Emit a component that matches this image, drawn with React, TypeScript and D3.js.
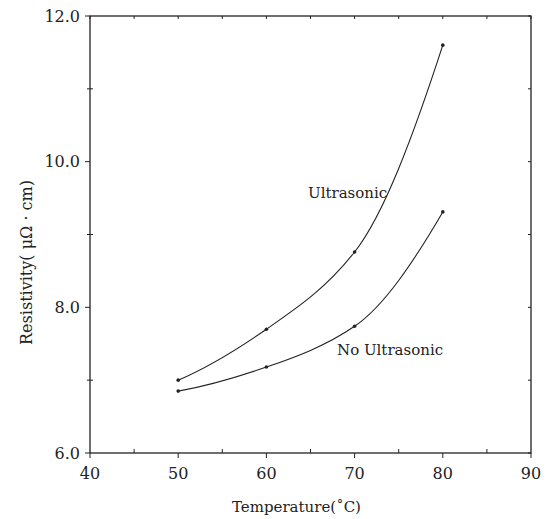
import React from 'react';
import * as d3 from 'd3';

// values
const temps = [50, 60, 70, 80];
const ultrasonic = [7.0, 7.7, 8.76, 11.6];
const noUltrasonic = [6.85, 7.18, 7.74, 9.31];
const xTicks = [40, 50, 60, 70, 80, 90];
const xMinor = [45, 55, 65, 75, 85];
const yTicks = [6, 8, 10, 12];
const yMinor = [7, 9, 11];

const W = 549, H = 519;
const font = '"DejaVu Serif", serif';
const ink = '#222';

// smooth hermite curve with harmonic-mean tangents (keeps the curves convex like the hand drawn ones)
function smoothPath(px: number[], py: number[]) {
  const n = px.length;
  const s: number[] = [];
  for (let i = 0; i < n - 1; i++) s.push((py[i + 1] - py[i]) / (px[i + 1] - px[i]));
  const m: number[] = [];
  for (let i = 0; i < n; i++) {
    if (i === 0) m.push((3 * s[0] - s[1]) / 2);
    else if (i === n - 1) m.push((3 * s[n - 2] - s[n - 3]) / 2);
    else m.push(s[i - 1] * s[i] > 0 ? 2 / (1 / s[i - 1] + 1 / s[i]) : 0);
  }
  const p = d3.path();
  p.moveTo(px[0], py[0]);
  for (let i = 0; i < n - 1; i++) {
    const h = (px[i + 1] - px[i]) / 3;
    p.bezierCurveTo(px[i] + h, py[i] + m[i] * h, px[i + 1] - h, py[i + 1] - m[i + 1] * h, px[i + 1], py[i + 1]);
  }
  return p.toString();
}

function App() {
  const x = d3.scaleLinear().domain([40, 90]).range([90, 531]);
  const y = d3.scaleLinear().domain([6, 12]).range([453, 16]);

  const series = [
    { name: 'Ultrasonic', values: ultrasonic, lx: 308, ly: 198 },
    { name: 'No Ultrasonic', values: noUltrasonic, lx: 337, ly: 355 },
  ];

  const [x0, x1] = x.range();
  const [y0, y1] = y.range();

  return (
    <svg width={W} height={H} style={{ position: 'absolute', left: 0, top: 0, background: '#fff' }}>
      {/* frame */}
      <rect x={x0} y={y1} width={x1 - x0} height={y0 - y1} fill="none" stroke={ink} strokeWidth={1.3} />

      {/* x ticks */}
      {xTicks.map(t => (
        <g key={'xt' + t}>
          <line x1={x(t)} x2={x(t)} y1={y0} y2={y0 + 5} stroke={ink} />
          <line x1={x(t)} x2={x(t)} y1={y1} y2={y1 + 3} stroke={ink} />
          <text x={x(t)} y={y0 + 26} textAnchor="middle" fontFamily={font} fontSize={16} fill={ink}>{t}</text>
        </g>
      ))}
      {xMinor.map(t => (
        <g key={'xm' + t}>
          <line x1={x(t)} x2={x(t)} y1={y0} y2={y0 - 4} stroke={ink} />
          <line x1={x(t)} x2={x(t)} y1={y1} y2={y1 + 3} stroke={ink} />
        </g>
      ))}

      {/* y ticks */}
      {yTicks.map(t => (
        <g key={'yt' + t}>
          <line x1={x0 - 5} x2={x0} y1={y(t)} y2={y(t)} stroke={ink} />
          <line x1={x1} x2={x1 - 3} y1={y(t)} y2={y(t)} stroke={ink} />
          <text x={x0 - 10} y={y(t)} dy="0.35em" textAnchor="end" fontFamily={font} fontSize={16} fill={ink}>{t.toFixed(1)}</text>
        </g>
      ))}
      {yMinor.map(t => (
        <g key={'ym' + t}>
          <line x1={x0 - 3} x2={x0 + 3} y1={y(t)} y2={y(t)} stroke={ink} />
          <line x1={x1} x2={x1 - 3} y1={y(t)} y2={y(t)} stroke={ink} />
        </g>
      ))}

      {/* curves */}
      {series.map(s => (
        <g key={s.name}>
          <path d={smoothPath(temps.map(t => x(t)), s.values.map(v => y(v)))} fill="none" stroke={ink} strokeWidth={1.1} />
          {s.values.map((v, i) => (
            <circle key={i} cx={x(temps[i])} cy={y(v)} r={1.8} fill={ink} />
          ))}
          <text x={s.lx} y={s.ly} fontFamily={font} fontSize={15} fill={ink}>{s.name}</text>
        </g>
      ))}

      {/* axis titles */}
      <text x={(x0 + x1) / 2 - 14} y={512} textAnchor="middle" fontFamily={font} fontSize={15} fill={ink}>Temperature(˚C)</text>
      <text transform={`translate(32,${(y0 + y1) / 2 + 28}) rotate(-90)`} textAnchor="middle" fontFamily={font} fontSize={16} fill={ink}>Resistivity( μΩ · cm)</text>
    </svg>
  );
}

export default App;
